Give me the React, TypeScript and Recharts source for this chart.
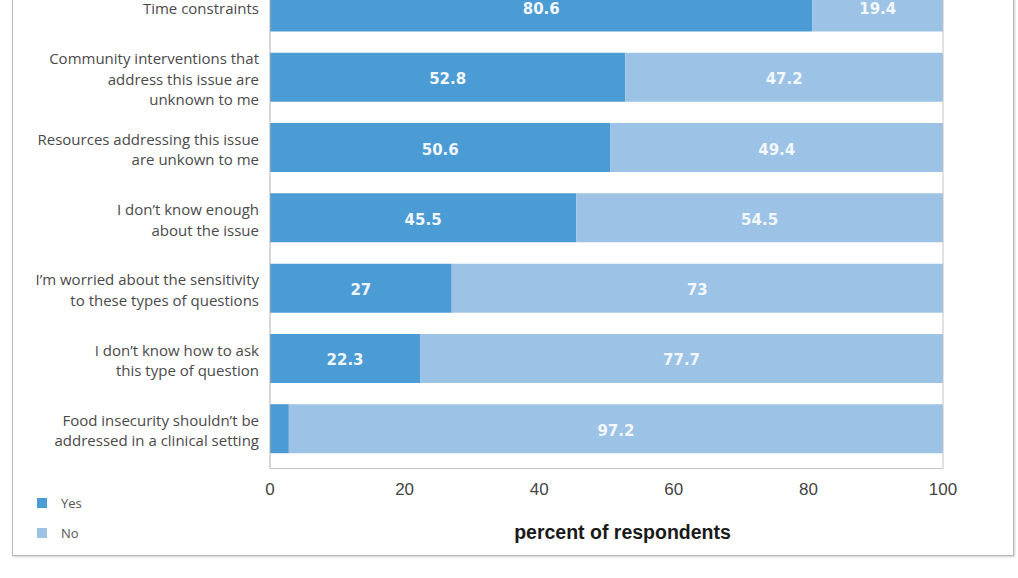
import React from 'react';
import { BarChart, Bar, XAxis, YAxis, LabelList, ReferenceLine, Legend } from 'recharts';

const categories = [
  'Time constraints',
  'Community interventions that\naddress this issue are\nunknown to me',
  'Resources addressing this issue\nare unkown to me',
  'I don\u2019t know enough\nabout the issue',
  'I\u2019m worried about the sensitivity\nto these types of questions',
  'I don\u2019t know how to ask\nthis type of question',
  'Food insecurity shouldn\u2019t be\naddressed in a clinical setting',
];
const yesValues = [80.6, 52.8, 50.6, 45.5, 27, 22.3, 2.8];
const noValues = [19.4, 47.2, 49.4, 54.5, 73, 77.7, 97.2];
const xTicks = [0, 20, 40, 60, 80, 100];
const seriesNames = ['Yes', 'No'];
const axisTitle = 'percent of respondents';

const YES_COLOR = '#4b9bd4';
const NO_COLOR = '#9cc2e6';
const LABEL_FONT = "'Open Sans', 'Liberation Sans', Arial, sans-serif";

const data = categories.map((c, i) => ({ category: c, yes: yesValues[i], no: noValues[i] }));

const CategoryTick = (props: any) => {
  const { x, y, payload } = props;
  const lines = String(payload.value).split('\n');
  const lh = 20.5;
  const start = -((lines.length - 1) / 2) * lh + 2.5;
  return (
    <text x={x} y={y} textAnchor="end" fill="#4a4a4a" fontSize={15} fontFamily={LABEL_FONT}>
      {lines.map((l, i) => (
        <tspan key={i} x={x} y={y + start + i * lh} dy="0.35em">{l}</tspan>
      ))}
    </text>
  );
};

const ValueLabel = (props: any) => {
  const { x, y, width, height, value } = props;
  if (value < 5) return null;
  return (
    <text
      x={x + width / 2}
      y={y + height / 2 + 2}
      textAnchor="middle"
      dominantBaseline="central"
      fill="#f2f7fc"
      fontSize={15}
      fontWeight="bold"
      fontFamily="'DejaVu Sans', Verdana, sans-serif"
    >
      {value}
    </text>
  );
};

const LegendContent = () => (
  <div style={{ fontFamily: LABEL_FONT, fontSize: 13, color: '#555' }}>
    {seriesNames.map((n, i) => (
      <div key={n} style={{ height: 30, display: 'flex', alignItems: 'center' }}>
        <span style={{ display: 'inline-block', width: 10, height: 10, background: i === 0 ? YES_COLOR : NO_COLOR, marginRight: 14 }} />
        <span>{n}</span>
      </div>
    ))}
  </div>
);

const AxisTitle = (props: any) => {
  const vb = props.viewBox;
  return (
    <text
      x={vb.x + vb.width / 2 + 16}
      y={vb.y + 63}
      textAnchor="middle"
      dominantBaseline="central"
      fill="#1a1a1a"
      fontSize={19.5}
      fontWeight="bold"
      fontFamily="'Liberation Sans', Arial, sans-serif"
    >
      {axisTitle}
    </text>
  );
};

export default function App() {
  return (
    <div style={{ position: 'absolute', left: 0, top: 0, width: 1018, height: 578, overflow: 'hidden', background: '#fff' }}>
      <div
        style={{
          position: 'absolute',
          left: 12,
          top: -100,
          width: 1002,
          height: 656,
          boxSizing: 'border-box',
          border: '1.5px solid #b8b8b8',
          boxShadow: '1px 1px 2px #d0d0d0',
        }}
      />
      <div style={{ position: 'absolute', left: 0, top: -58.5 }}>
        <BarChart
          width={1018}
          height={640}
          data={data}
          layout="vertical"
          margin={{ top: 29.5, right: 75, bottom: 33.5, left: 0 }}
          barSize={49}
        >
          <XAxis
            type="number"
            domain={[0, 100]}
            ticks={xTicks}
            height={80}
            tickLine={false}
            tickSize={0}
            tickMargin={14.5}
            axisLine={{ stroke: '#c4c4c4' }}
            tick={{ fill: '#444', fontSize: 17, fontFamily: "'Liberation Sans', Arial, sans-serif" }}
            label={<AxisTitle />}
          />
          <YAxis
            type="category"
            dataKey="category"
            width={270}
            tickLine={false}
            tickSize={0}
            tickMargin={11}
            padding={{ top: 0, bottom: 5 }}
            axisLine={{ stroke: '#b0b0b0' }}
            tick={<CategoryTick />}
            interval={0}
          />
          <ReferenceLine x={100} stroke="#c4c4c4" />
          <Legend
            content={<LegendContent />}
            wrapperStyle={{ position: 'absolute', left: 37, top: 546.5, width: 120, height: 0, overflow: 'visible' }}
          />
          <Bar dataKey="yes" name="Yes" stackId="a" fill={YES_COLOR} isAnimationActive={false}>
            <LabelList dataKey="yes" content={<ValueLabel />} />
          </Bar>
          <Bar dataKey="no" name="No" stackId="a" fill={NO_COLOR} isAnimationActive={false}>
            <LabelList dataKey="no" content={<ValueLabel />} />
          </Bar>
        </BarChart>
      </div>
    </div>
  );
}
